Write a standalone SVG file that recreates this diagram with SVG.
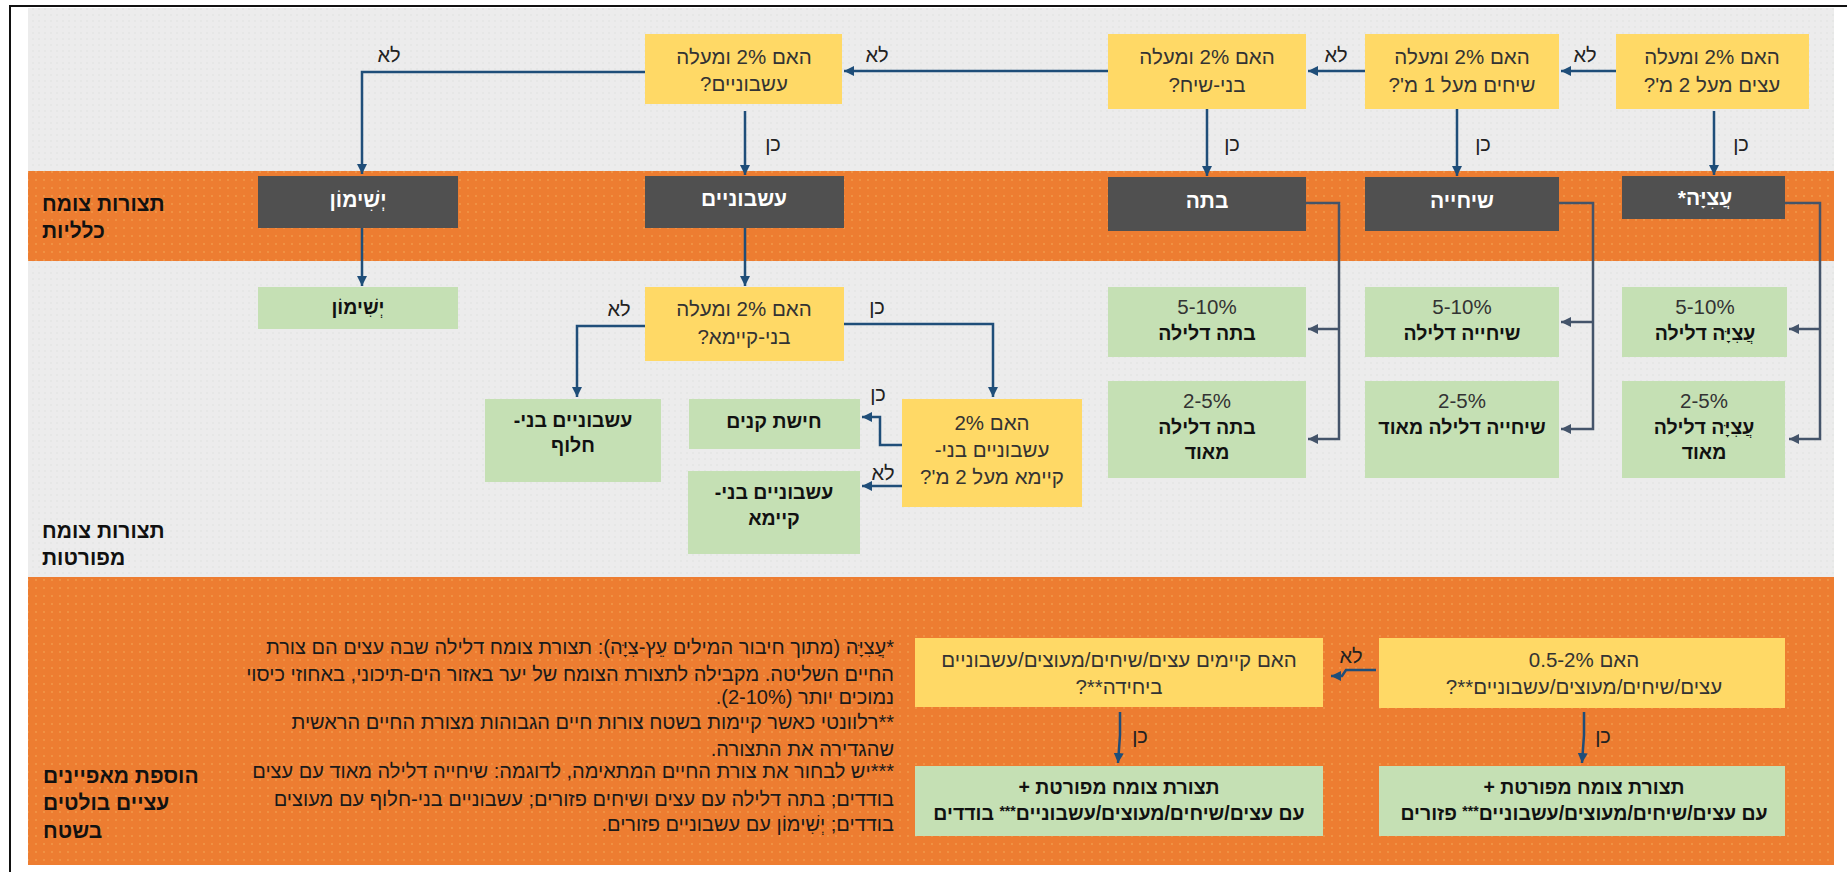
<svg xmlns="http://www.w3.org/2000/svg" width="1847" height="872" viewBox="0 0 1847 872">
<defs>
<style>
text{font-family:"Liberation Sans","DejaVu Sans",sans-serif;direction:rtl;}
.q{font-size:20.5px;fill:#333;text-anchor:middle;}
.dk{font-size:21px;font-weight:bold;fill:#fff;text-anchor:middle;}
.gb{font-size:19.5px;font-weight:bold;fill:#111;text-anchor:middle;}
.pc{font-size:20.5px;fill:#333;text-anchor:middle;}
.lb{font-size:20px;fill:#222;text-anchor:middle;}
.band{font-size:21px;font-weight:bold;fill:#111;text-anchor:end;}
.fn{font-size:20px;fill:#1a1a1a;text-anchor:start;}
.sup{font-size:14px;baseline-shift:4px;}
.yel{fill:#FFD966;}
.grn{fill:#C5E0B4;}
.dark{fill:#505050;}
.arr{fill:none;stroke:#1F4E79;stroke-width:2.5;}
.brk{fill:none;stroke:#44546A;stroke-width:2.5;}
</style>
<pattern id="dotsG" width="6" height="6" patternUnits="userSpaceOnUse">
<rect width="6" height="6" fill="#ECECEC"/>
<circle cx="3" cy="3" r="0.8" fill="#E0E2E0"/>
</pattern>
<pattern id="dotsO" width="8" height="8" patternUnits="userSpaceOnUse">
<rect width="8" height="8" fill="#ED7D31"/>
<circle cx="4" cy="4" r="0.9" fill="#F29B4B"/>
</pattern>
<marker id="ah" markerUnits="userSpaceOnUse" markerWidth="12" markerHeight="12" refX="10" refY="6" orient="auto">
<path d="M0,1 L10,6 L0,11 z" fill="#1F4E79"/>
</marker>
<marker id="ahg" markerUnits="userSpaceOnUse" markerWidth="12" markerHeight="12" refX="10" refY="6" orient="auto">
<path d="M0,1 L10,6 L0,11 z" fill="#44546A"/>
</marker>
</defs>
<rect x="0" y="0" width="1847" height="872" fill="#fff"/>
<g id="background">
<rect x="28" y="8" width="1806" height="163" fill="url(#dotsG)"/>
<rect x="28" y="171" width="1806" height="90" fill="url(#dotsO)"/>
<rect x="28" y="261" width="1806" height="316" fill="url(#dotsG)"/>
<rect x="28" y="577" width="1806" height="288" fill="url(#dotsO)"/>
<path d="M10 872 V6 H1847" fill="none" stroke="#111" stroke-width="2"/>
</g>
<g id="band-labels">
<text class="band" x="42" y="211">תצורות צומח</text>
<text class="band" x="42" y="238">כלליות</text>
<text class="band" x="42" y="538">תצורות צומח</text>
<text class="band" x="42" y="565">מפורטות</text>
<text class="band" x="43" y="783">הוספת מאפיינים</text>
<text class="band" x="43" y="810">עציים בולטים</text>
<text class="band" x="43" y="838">בשטח</text>
</g>
<g id="connectors">
<path class="arr" d="M1616 71 H1561" marker-end="url(#ah)"/>
<path class="arr" d="M1365 71 H1308" marker-end="url(#ah)"/>
<path class="arr" d="M1108 71 H844" marker-end="url(#ah)"/>
<path class="arr" d="M645 72 H362 V174" marker-end="url(#ah)"/>
<path class="arr" d="M1714 111 V175" marker-end="url(#ah)"/>
<path class="arr" d="M1457 109 V176" marker-end="url(#ah)"/>
<path class="arr" d="M1207 109 V176" marker-end="url(#ah)"/>
<path class="arr" d="M745 111 V175" marker-end="url(#ah)"/>
<path class="arr" d="M362 228 V286" marker-end="url(#ah)"/>
<path class="arr" d="M745 228 V286" marker-end="url(#ah)"/>
<path class="arr" d="M645 326 H577 V397" marker-end="url(#ah)"/>
<path class="arr" d="M844 324 H993 V397" marker-end="url(#ah)"/>
<path class="arr" d="M902 445 H880 V417 H862" marker-end="url(#ah)"/>
<path class="arr" d="M904 486 H862" marker-end="url(#ah)"/>
<path class="brk" d="M1785 203 H1820 V439 H1789" marker-end="url(#ahg)"/>
<path class="brk" d="M1820 329 H1789" marker-end="url(#ahg)"/>
<path class="brk" d="M1559 203 H1593 V429 H1561" marker-end="url(#ahg)"/>
<path class="brk" d="M1593 322 H1561" marker-end="url(#ahg)"/>
<path class="brk" d="M1306 203 H1339 V439 H1308" marker-end="url(#ahg)"/>
<path class="brk" d="M1339 329 H1308" marker-end="url(#ahg)"/>
<path class="arr" d="M1376 670 H1346 L1342 676 H1331" marker-end="url(#ah)"/>
<path class="arr" d="M1584 712 L1584 735 L1582 763" marker-end="url(#ah)"/>
<path class="arr" d="M1120 712 L1120 735 L1118 763" marker-end="url(#ah)"/>
<text class="lb" x="1585" y="62">לא</text>
<text class="lb" x="1336" y="62">לא</text>
<text class="lb" x="877" y="62">לא</text>
<text class="lb" x="389" y="62">לא</text>
<text class="lb" x="1741" y="151">כן</text>
<text class="lb" x="1483" y="151">כן</text>
<text class="lb" x="1232" y="151">כן</text>
<text class="lb" x="773" y="151">כן</text>
<text class="lb" x="619" y="316">לא</text>
<text class="lb" x="877" y="314">כן</text>
<text class="lb" x="878" y="401">כן</text>
<text class="lb" x="883" y="480">לא</text>
<text class="lb" x="1351" y="663">לא</text>
<text class="lb" x="1603" y="743">כן</text>
<text class="lb" x="1140" y="743">כן</text>
</g>
<g id="q-trees">
<rect class="yel" x="1616" y="34" width="193" height="75"/>
<text class="q" x="1712" y="64">האם 2% ומעלה</text>
<text class="q" x="1712" y="92">עצים מעל 2 מ'?</text>
</g>
<g id="q-shrubs">
<rect class="yel" x="1365" y="34" width="194" height="75"/>
<text class="q" x="1462" y="64">האם 2% ומעלה</text>
<text class="q" x="1462" y="92">שיחים מעל 1 מ'?</text>
</g>
<g id="q-subshrubs">
<rect class="yel" x="1108" y="34" width="198" height="75"/>
<text class="q" x="1207" y="64">האם 2% ומעלה</text>
<text class="q" x="1207" y="92">בני-שיח?</text>
</g>
<g id="q-herbs">
<rect class="yel" x="645" y="34" width="197" height="70"/>
<text class="q" x="744" y="64">האם 2% ומעלה</text>
<text class="q" x="744" y="91">עשבוניים?</text>
</g>
<g id="f-atziya">
<rect class="dark" x="1622" y="176" width="163" height="43"/>
<text class="dk" x="1705" y="205">עֲצִיָּה*</text>
</g>
<g id="f-sichiya">
<rect class="dark" x="1365" y="177" width="194" height="54"/>
<text class="dk" x="1462" y="208">שיחייה</text>
</g>
<g id="f-bata">
<rect class="dark" x="1108" y="177" width="198" height="54"/>
<text class="dk" x="1207" y="208">בתה</text>
</g>
<g id="f-herbs">
<rect class="dark" x="645" y="176" width="199" height="52"/>
<text class="dk" x="744" y="206">עשבוניים</text>
</g>
<g id="f-desert">
<rect class="dark" x="258" y="176" width="200" height="52"/>
<text class="dk" x="358" y="207">יְשִׁימוֹן</text>
</g>
<g id="d-atziya-sparse">
<rect class="grn" x="1622" y="287" width="165" height="70"/>
<text class="pc" x="1705" y="314">5-10%</text>
<text class="gb" x="1705" y="340">עֲצִיָּה דלילה</text>
</g>
<g id="d-atziya-very">
<rect class="grn" x="1622" y="381" width="163" height="97"/>
<text class="pc" x="1704" y="408">2-5%</text>
<text class="gb" x="1704" y="434">עֲצִיָּה דלילה</text>
<text class="gb" x="1704" y="459">מאוד</text>
</g>
<g id="d-sichiya-sparse">
<rect class="grn" x="1365" y="287" width="194" height="70"/>
<text class="pc" x="1462" y="314">5-10%</text>
<text class="gb" x="1462" y="340">שיחייה דלילה</text>
</g>
<g id="d-sichiya-very">
<rect class="grn" x="1365" y="381" width="194" height="97"/>
<text class="pc" x="1462" y="408">2-5%</text>
<text class="gb" x="1462" y="434">שיחייה דלילה מאוד</text>
</g>
<g id="d-bata-sparse">
<rect class="grn" x="1108" y="287" width="198" height="70"/>
<text class="pc" x="1207" y="314">5-10%</text>
<text class="gb" x="1207" y="340">בתה דלילה</text>
</g>
<g id="d-bata-very">
<rect class="grn" x="1108" y="381" width="198" height="97"/>
<text class="pc" x="1207" y="408">2-5%</text>
<text class="gb" x="1207" y="434">בתה דלילה</text>
<text class="gb" x="1207" y="459">מאוד</text>
</g>
<g id="d-desert">
<rect class="grn" x="258" y="287" width="200" height="42"/>
<text class="gb" x="358" y="314">יְשִׁימוֹן</text>
</g>
<g id="q-perennial">
<rect class="yel" x="645" y="287" width="199" height="74"/>
<text class="q" x="744" y="316">האם 2% ומעלה</text>
<text class="q" x="744" y="344">בני-קיימא?</text>
</g>
<g id="d-annual">
<rect class="grn" x="485" y="399" width="176" height="83"/>
<text class="gb" x="573" y="427">עשבוניים בני-</text>
<text class="gb" x="573" y="452">חלוף</text>
</g>
<g id="q-perennial-tall">
<rect class="yel" x="902" y="399" width="180" height="108"/>
<text class="q" x="992" y="430">האם 2%</text>
<text class="q" x="992" y="457">עשבוניים בני-</text>
<text class="q" x="992" y="484">קיימא מעל 2 מ'?</text>
</g>
<g id="d-reeds">
<rect class="grn" x="689" y="399" width="171" height="50"/>
<text class="gb" x="774" y="428">חישת קנים</text>
</g>
<g id="d-perennial">
<rect class="grn" x="688" y="471" width="172" height="83"/>
<text class="gb" x="774" y="499">עשבוניים בני-</text>
<text class="gb" x="774" y="525">קיימא</text>
</g>
<g id="q-scattered">
<rect class="yel" x="1379" y="638" width="406" height="70"/>
<text class="q" x="1584" y="667">האם 0.5-2%</text>
<text class="q" x="1584" y="694">עצים/שיחים/מעוצים/עשבוניים**?</text>
</g>
<g id="q-single">
<rect class="yel" x="915" y="638" width="408" height="69"/>
<text class="q" x="1119" y="667">האם קיימים עצים/שיחים/מעוצים/עשבוניים</text>
<text class="q" x="1119" y="694">ביחידה**?</text>
</g>
<g id="d-scattered">
<rect class="grn" x="1379" y="766" width="406" height="70"/>
<text class="gb" x="1584" y="794">תצורת צומח מפורטת +</text>
<text class="gb" x="1584" y="820">עם עצים/שיחים/מעוצים/עשבוניים<tspan class="sup">***</tspan> פזורים</text>
</g>
<g id="d-single">
<rect class="grn" x="915" y="766" width="408" height="70"/>
<text class="gb" x="1119" y="794">תצורת צומח מפורטת +</text>
<text class="gb" x="1119" y="820">עם עצים/שיחים/מעוצים/עשבוניים<tspan class="sup">***</tspan> בודדים</text>
</g>
<g id="footnotes">
<text class="fn" x="894" y="654">*עֲצִיָּה (מתוך חיבור המילים עֵץ-צִיָּה): תצורת צומח דלילה שבה עצים הם צורת</text>
<text class="fn" x="894" y="681">החיים השליטה. מקבילה לתצורת הצומח של יער באזור הים-תיכוני, באחוזי כיסוי</text>
<text class="fn" x="894" y="704">נמוכים יותר (2-10%).</text>
<text class="fn" x="894" y="729">**רלוונטי כאשר קיימות בשטח צורות חיים הגבוהות מצורת החיים הראשית</text>
<text class="fn" x="894" y="756">שהגדירה את התצורה.</text>
<text class="fn" x="894" y="778">***יש לבחור את צורת החיים המתאימה, לדוגמה: שיחייה דלילה מאוד עם עצים</text>
<text class="fn" x="894" y="806">בודדים; בתה דלילה עם עצים ושיחים פזורים; עשבוניים בני-חלוף עם מעוצים</text>
<text class="fn" x="894" y="831">בודדים; יְשִׁימוֹן עם עשבוניים פזורים.</text>
</g>
</svg>
